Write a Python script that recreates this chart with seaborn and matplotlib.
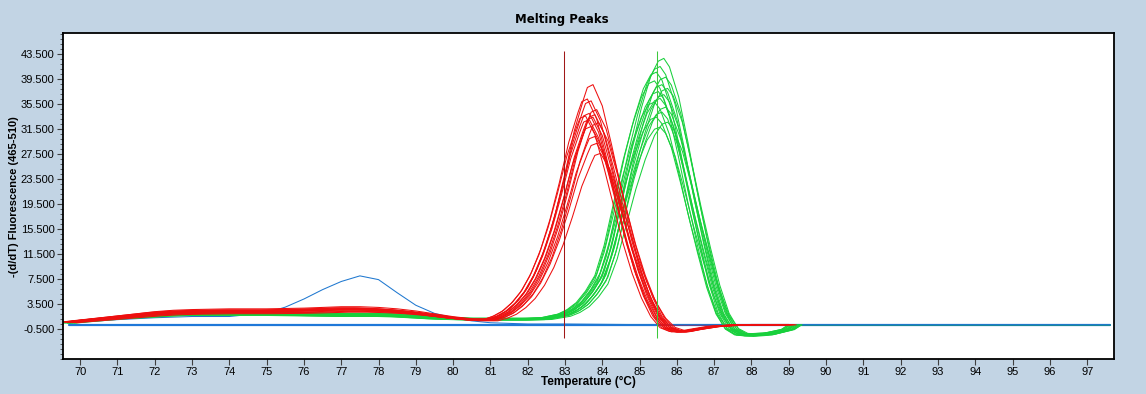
"""Melting peaks chart — LightCycler style -(d/dT) fluorescence curves."""

import pandas as pd
import matplotlib
matplotlib.use("Agg")
import matplotlib.pyplot as plt
from matplotlib.ticker import FixedLocator, MultipleLocator
import seaborn as sns

# ── values ───────────────────────────────────────────────────────────────
# red group: one reference curve shape, then per-sample peak height / Tm
red_temps = [69.7, 70.0, 70.5, 71.0, 71.5, 72.0, 72.5, 73.0, 74.0, 75.0, 76.0,
             77.0, 77.5, 78.0, 78.5, 79.0, 79.5, 80.0, 80.5, 81.0, 81.25, 81.5,
             81.75, 82.0, 82.25, 82.5, 82.75, 83.0, 83.25, 83.5, 83.6, 83.75,
             84.0, 84.25, 84.5, 84.75, 85.0, 85.25, 85.5, 85.75, 86.0, 86.25,
             86.5, 87.0, 87.5, 88.0, 89.0]
red_shape = [0.6, 0.8, 1.1, 1.4, 1.7, 2.0, 2.2, 2.3, 2.4, 2.4, 2.5,
             2.7, 2.7, 2.6, 2.4, 2.1, 1.7, 1.3, 1.0, 1.0, 1.5, 2.3,
             3.6, 5.4, 8.0, 11.5, 16.0, 21.5, 27.5, 32.0, 33.6, 34.0,
             31.0, 25.5, 19.5, 13.5, 8.5, 4.5, 1.5, -0.3, -0.9, -0.9,
             -0.6, -0.1, 0.1, 0.2, 0.2]
red_ref_peak = 34.0
red_ref_tm = 83.6
red_peaks = [38.6, 36.3, 36.0, 34.6, 34.0, 33.8, 33.6, 33.4, 33.0, 32.5,
             31.9, 30.3, 29.2, 27.6]
red_tms = [83.6, 83.45, 83.55, 83.7, 83.5, 83.65, 83.4, 83.6, 83.5, 83.75,
           83.55, 83.65, 83.7, 83.8]

# green group
green_temps = [69.7, 70.0, 70.5, 71.0, 71.5, 72.0, 72.5, 73.0, 74.0, 75.0,
               76.0, 77.0, 78.0, 78.5, 79.0, 79.5, 80.0, 80.5, 81.0, 81.5,
               82.0, 82.5, 83.0, 83.25, 83.5, 83.75, 84.0, 84.25, 84.5, 84.75,
               85.0, 85.25, 85.45, 85.6, 85.75, 86.0, 86.25, 86.5, 86.75, 87.0,
               87.25, 87.5, 87.75, 88.0, 88.5, 89.0, 89.2]
green_shape = [0.5, 0.7, 1.0, 1.3, 1.5, 1.7, 1.9, 2.0, 2.0, 2.0,
               1.9, 1.8, 1.8, 1.7, 1.5, 1.3, 1.2, 1.1, 1.1, 1.1,
               1.1, 1.2, 1.8, 2.5, 3.6, 5.4, 7.8, 12.5, 19.0, 25.5,
               31.0, 35.5, 37.6, 38.0, 36.8, 32.5, 26.0, 19.0, 12.5, 6.5,
               2.0, -0.5, -1.4, -1.5, -1.3, -0.6, 0.2]
green_ref_peak = 38.0
green_ref_tm = 85.5
green_peaks = [42.8, 41.5, 40.6, 39.8, 39.2, 38.6, 38.0, 37.5, 37.0, 36.4,
               35.8, 35.0, 34.2, 33.4, 32.6, 31.8]
green_tms = [85.55, 85.45, 85.35, 85.6, 85.3, 85.5, 85.65, 85.4, 85.55, 85.45,
             85.3, 85.6, 85.5, 85.35, 85.65, 85.45]

# single blue sample with a low-temperature bump
blue_temps = [69.7, 70.0, 71.0, 72.0, 73.0, 74.0, 75.0, 75.5, 76.0, 76.5,
              77.0, 77.5, 78.0, 78.5, 79.0, 79.5, 80.0, 80.5, 81.0, 82.0,
              83.0, 85.0, 97.6]
blue_vals = [0.4, 0.6, 1.0, 1.3, 1.5, 1.5, 2.1, 3.0, 4.3, 5.8,
             7.1, 8.0, 7.4, 5.3, 3.3, 2.0, 1.3, 0.8, 0.5, 0.3,
             0.3, 0.2, 0.2]

# flat blank / baseline traces
flat_temps = [69.7, 97.6]
flat_vals = [0.2, 0.2]
tail_temps = [85.6, 89.2, 97.6]
tail_vals = [0.2, 0.2, 0.2]

# Tm cursors
cursor_temps = [82.97, 85.48]
cursor_low = -1.9
cursor_high = 44.0

x_ticks = list(range(70, 98))
y_ticks = [-0.5, 3.5, 7.5, 11.5, 15.5, 19.5, 23.5, 27.5, 31.5, 35.5, 39.5, 43.5]


def build_group(temps, shape, ref_peak, ref_tm, peaks, tms, name):
    frames = []
    for i, (pk, tm) in enumerate(zip(peaks, tms)):
        frames.append(pd.DataFrame({
            "temp": [t + (tm - ref_tm) for t in temps],
            "value": [v * pk / ref_peak for v in shape],
            "sample": f"{name}{i}",
        }))
    return pd.concat(frames, ignore_index=True)


def main():
    sns.set_style("ticks")
    plt.rcParams["font.family"] = ["Liberation Sans", "DejaVu Sans"]
    plt.rcParams["text.color"] = "black"

    red = build_group(red_temps, red_shape, red_ref_peak, red_ref_tm,
                      red_peaks, red_tms, "r")
    green = build_group(green_temps, green_shape, green_ref_peak, green_ref_tm,
                        green_peaks, green_tms, "g")
    blue = pd.DataFrame({"temp": blue_temps, "value": blue_vals})
    flat = pd.DataFrame({"temp": flat_temps, "value": flat_vals})
    tail = pd.DataFrame({"temp": tail_temps, "value": tail_vals})

    bg = "#c2d4e4"
    fig = plt.figure(figsize=(11.46, 3.94), dpi=100, facecolor=bg)
    ax = fig.add_axes([63 / 1146, 1 - 359 / 394, 1051 / 1146, 326 / 394])
    ax.set_facecolor("white")

    lw = 0.75
    sns.lineplot(data=flat, x="temp", y="value", color="#1f78d8",
                 linewidth=1.6, ax=ax)
    sns.lineplot(data=tail.iloc[:2], x="temp", y="value", color="#7a3c7a",
                 linewidth=1.3, ax=ax)
    sns.lineplot(data=tail.iloc[1:], x="temp", y="value", color="#1a8c8c",
                 linewidth=1.3, ax=ax)
    sns.lineplot(data=blue, x="temp", y="value", color="#1f78d0",
                 linewidth=lw, ax=ax)
    sns.lineplot(data=green, x="temp", y="value", units="sample",
                 estimator=None, sort=False, color="#18d03c",
                 linewidth=lw, ax=ax)
    sns.lineplot(data=red, x="temp", y="value", units="sample",
                 estimator=None, sort=False, color="#ee0f0f",
                 linewidth=lw, ax=ax)

    ax.vlines(cursor_temps, cursor_low, cursor_high,
              colors=["#a01818", "#3cc83c"], linewidth=lw)

    ax.set_xlim(69.54, 97.72)
    ax.set_ylim(-5.3, 46.86)
    ax.xaxis.set_major_locator(FixedLocator(x_ticks))
    ax.yaxis.set_major_locator(FixedLocator(y_ticks))
    ax.yaxis.set_minor_locator(MultipleLocator(0.8, offset=-0.5))
    ax.set_xticklabels([str(t) for t in x_ticks])
    ax.set_yticklabels([f"{v:.3f}" for v in y_ticks])
    ax.tick_params(axis="both", which="major", labelsize=8, length=4,
                   width=0.8, color="#404040", labelcolor="black", pad=2)
    ax.tick_params(axis="y", which="minor", length=2.5, width=0.6,
                   color="#404040")
    ax.tick_params(axis="x", which="minor", length=0)
    for sp in ax.spines.values():
        sp.set_visible(True)
        sp.set_linewidth(1.3)
        sp.set_color("black")

    ax.set_xlabel("")
    ax.set_ylabel("")
    fig.text(562 / 1146, 1 - 19 / 394, "Melting Peaks", ha="center",
             va="center", fontsize=8.5, fontweight="heavy",
             family=["DejaVu Sans"])
    fig.text(588 / 1146, 1 - 382 / 394, "Temperature (°C)", ha="center",
             va="center", fontsize=8.5, fontweight="bold")
    fig.text(14 / 1146, 1 - 197 / 394, "-(d/dT) Fluorescence (465-510)",
             ha="center", va="center", rotation=90, fontsize=8,
             fontweight="bold")

    fig.savefig("out.png", dpi=100, facecolor=bg)
    plt.close(fig)


if __name__ == "__main__":
    main()
